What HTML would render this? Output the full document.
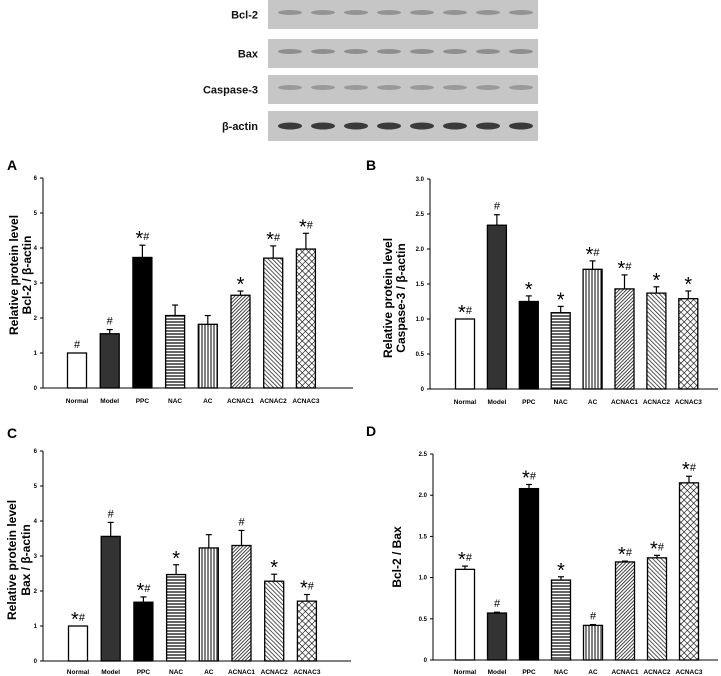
<!DOCTYPE html>
<html><head><meta charset="utf-8">
<style>
body{margin:0;background:#fff;width:721px;height:676px;overflow:hidden;font-family:"Liberation Sans",Arial,sans-serif}
svg{position:absolute;left:0;top:0}
</style></head>
<body>
<svg id="fig" width="721" height="676" xmlns="http://www.w3.org/2000/svg">
<defs>
<pattern id="pH" width="4" height="3" patternUnits="userSpaceOnUse"><rect width="4" height="3" fill="#fff"/><line x1="0" y1="1" x2="4" y2="1" stroke="#000" stroke-width="1.2"/></pattern>
<pattern id="pV" width="3" height="4" patternUnits="userSpaceOnUse"><rect width="3" height="4" fill="#fff"/><line x1="1" y1="0" x2="1" y2="4" stroke="#000" stroke-width="1"/></pattern>
<pattern id="pD1" width="2.5" height="2.5" patternUnits="userSpaceOnUse" patternTransform="rotate(45)"><rect width="2.5" height="2.5" fill="#fff"/><line x1="0" y1="0" x2="0" y2="2.5" stroke="#222" stroke-width="1.7"/></pattern>
<pattern id="pD2" width="3" height="3" patternUnits="userSpaceOnUse" patternTransform="rotate(-45)"><rect width="3" height="3" fill="#fff"/><line x1="0" y1="0" x2="0" y2="3" stroke="#222" stroke-width="1.5"/></pattern>
<pattern id="pX" width="4.5" height="4.5" patternUnits="userSpaceOnUse" patternTransform="rotate(45)"><rect width="4.5" height="4.5" fill="#fff"/><line x1="0" y1="0" x2="0" y2="4.5" stroke="#000" stroke-width="1.2"/><line x1="0" y1="0" x2="4.5" y2="0" stroke="#000" stroke-width="1.2"/></pattern>
</defs>
<g id="blot"></g>
<g id="charts"></g>
</svg>
<script>
const categories = ["Normal","Model","PPC","NAC","AC","ACNAC1","ACNAC2","ACNAC3"];
const valuesA = [1.0,1.55,3.73,2.07,1.82,2.65,3.71,3.97];
const errorsA = [0,0.12,0.35,0.3,0.25,0.12,0.35,0.45];
const marksA = ["#","#","*#","","","*","*#","*#"];
const ticksA = [0,1,2,3,4,5,6];
const valuesB = [1.0,2.34,1.25,1.09,1.71,1.43,1.37,1.29];
const errorsB = [0,0.15,0.08,0.09,0.12,0.2,0.09,0.11];
const marksB = ["*#","#","*","*","*#","*#","*","*"];
const ticksB = ["0","0.5","1.0","1.5","2.0","2.5","3.0"];
const valuesC = [1.0,3.56,1.68,2.47,3.23,3.3,2.28,1.71];
const errorsC = [0,0.4,0.15,0.28,0.38,0.43,0.2,0.19];
const marksC = ["*#","#","*#","*","","#","*","*#"];
const ticksC = [0,1,2,3,4,5,6];
const valuesD = [1.10,0.57,2.08,0.97,0.42,1.19,1.24,2.15];
const errorsD = [0.04,0.01,0.05,0.04,0.01,0.01,0.03,0.08];
const marksD = ["*#","#","*#","*","#","*#","*#","*#"];
const ticksD = ["0","0.5","1.0","1.5","2.0","2.5"];
const blotRows = ["Bcl-2","Bax","Caspase-3","β-actin"];

const NS="http://www.w3.org/2000/svg";
const fills=["#fff","#333","#000","url(#pH)","url(#pV)","url(#pD1)","url(#pD2)","url(#pX)"];
function mk(tag,attrs,parent){const e=document.createElementNS(NS,tag);for(const k in attrs)e.setAttribute(k,attrs[k]);parent.appendChild(e);return e;}

const blot=document.getElementById('blot');
const rowY=[[0,29],[39,68],[75,104],[111,141]];
const bandOp=[0.45,0.5,0.4,0.9];
blotRows.forEach((r,i)=>{
  const g=mk('g',{},blot);
  
  
  mk('rect',{x:268,y:rowY[i][0],width:270,height:rowY[i][1]-rowY[i][0],fill:'#c6c6c6'},g);
  const cy=(rowY[i][0]+rowY[i][1])/2+(i==3?0:-2);
  for(let k=0;k<8;k++){
    mk('ellipse',{cx:290+k*33,cy:cy,rx:12,ry:i==3?3.5:2.5,fill:i==3?'#2a2a2a':'#555',opacity:bandOp[i]},g);
  }
  const t=mk('text',{x:258,y:(rowY[i][0]+rowY[i][1])/2+4,'text-anchor':'end','font-size':11,'font-weight':'bold',fill:'#111'},g);
  t.textContent=r;
});

function chart(o){
  const root=mk('g',{},document.getElementById('charts'));
  
  
  const y=v=>o.y0-(v/o.max)*(o.y0-o.yTop);
  const x=i=>o.c0+i*o.step;
  const L=mk('text',{x:o.lx,y:o.ly,'font-size':14,'font-weight':'bold'},root);
  
  
  L.textContent=o.letter;
  mk('line',{x1:o.ax,y1:o.yTop,x2:o.ax,y2:o.y0,stroke:'#000','stroke-width':1},root);
  mk('line',{x1:o.ax,y1:o.y0,x2:o.axEnd,y2:o.y0,stroke:'#000','stroke-width':1},root);
  o.ticks.forEach(t=>{
    const v=parseFloat(t);
    mk('line',{x1:o.ax-3,y1:y(v),x2:o.ax,y2:y(v),stroke:'#000'},root);
    const tt=mk('text',{x:o.ax-6,y:y(v)+2,'text-anchor':'end','font-size':6,'font-weight':'bold'},root);
    
    
    tt.textContent=t;
  });
  o.title.forEach((s,k)=>{
    const yt=mk('text',{transform:`translate(${o.tb[k]},${o.ty}) rotate(-90)`,'text-anchor':'middle','font-size':12,'font-weight':'bold'},root);
    
    
    yt.textContent=s;
  });
  categories.forEach((c,i)=>{
    const v=o.values[i],e=o.errors[i],cx=x(i),w=19;
    const b=mk('rect',{x:cx-w/2,y:y(v),width:w,height:o.y0-y(v),fill:fills[i],stroke:'#000','stroke-width':1.3},root);
    
    
    if(e>0){
      mk('line',{x1:cx,y1:y(v),x2:cx,y2:y(v+e),stroke:'#000','stroke-width':1.2},root);
      mk('line',{x1:cx-3,y1:y(v+e),x2:cx+3,y2:y(v+e),stroke:'#000','stroke-width':1.2},root);
    }
    const m=o.marks[i];
    if(m){
      const mt=mk('text',{x:cx,y:y(v+e)-5,'text-anchor':'middle','font-size':12},root);
      
      
      if(m.includes('*')){const s=mk('tspan',{'font-size':20,dy:5},mt);s.textContent='*';}
      if(m.includes('#')){const s=mk('tspan',{'font-size':11,dy:m.includes('*')?-5:0},mt);s.textContent='#';}
    }
    const xl=mk('text',{x:cx,y:o.labY,'text-anchor':'middle','font-size':6.5,'font-weight':'bold'},root);
    
    
    xl.textContent=c;
  });
}
chart({letter:'A',lx:7,ly:170,ax:43,axEnd:353,y0:388,yTop:178,max:6,c0:77,step:32.7,ticks:ticksA.map(String),values:valuesA,errors:errorsA,marks:marksA,title:['Relative protein level','Bcl-2 / β-actin'],tb:[18,31],ty:275,labY:403});
chart({letter:'B',lx:366,ly:170,ax:430,axEnd:718,y0:389,yTop:179,max:3,c0:465,step:31.9,ticks:ticksB,values:valuesB,errors:errorsB,marks:marksB,title:['Relative protein level','Caspase-3 / β-actin'],tb:[392,405],ty:298,labY:404});
chart({letter:'C',lx:7,ly:438,ax:43,axEnd:351,y0:661,yTop:451,max:6,c0:78,step:32.7,ticks:ticksC.map(String),values:valuesC,errors:errorsC,marks:marksC,title:['Relative protein level','Bax / β-actin'],tb:[16,30],ty:560,labY:674});
chart({letter:'D',lx:366,ly:436,ax:433,axEnd:718,y0:660,yTop:454,max:2.5,c0:465,step:32,ticks:ticksD,values:valuesD,errors:errorsD,marks:marksD,title:['Bcl-2 / Bax'],tb:[401],ty:557,labY:674});
</script>
</body></html>
